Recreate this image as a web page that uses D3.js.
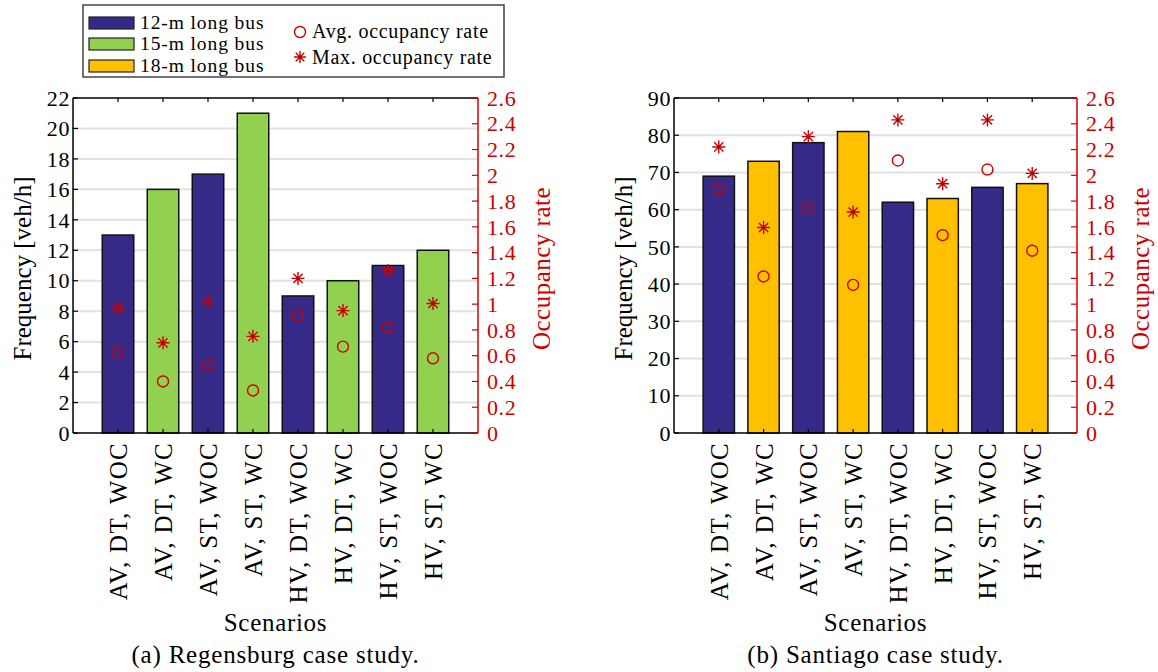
<!DOCTYPE html>
<html><head><meta charset="utf-8">
<script src="https://cdn.jsdelivr.net/npm/d3@7"></script>
<style>body{margin:0;background:#fff}svg{display:block}text{font-family:"Liberation Serif","Times New Roman",serif}</style>
</head><body>
<script>
// ---------- data ----------
const scenarios = ["AV, DT, WOC","AV, DT, WC","AV, ST, WOC","AV, ST, WC","HV, DT, WOC","HV, DT, WC","HV, ST, WOC","HV, ST, WC"];
const busTypes = ["12-m long bus","15-m long bus","18-m long bus"];
const busColors = ["#352a87","#92d050","#ffc000"];

const regFreq = [13,16,17,21,9,10,11,12];
const regBus = [0,1,0,1,0,1,0,1];
const regAvg = [0.63,0.40,0.52,0.33,0.91,0.67,0.815,0.58];
const regMax = [0.97,0.70,1.02,0.75,1.20,0.95,1.26,1.005];
const regFreqTicks = [0,2,4,6,8,10,12,14,16,18,20,22];

const sanFreq = [69,73,78,81,62,63,66,67];
const sanBus = [0,2,0,2,0,2,0,2];
const sanAvg = [1.89,1.215,1.745,1.15,2.115,1.535,2.045,1.415];
const sanMax = [2.22,1.595,2.30,1.715,2.43,1.935,2.43,2.015];
const sanFreqTicks = [0,10,20,30,40,50,60,70,80,90];

const occTicks = [0,0.2,0.4,0.6,0.8,1,1.2,1.4,1.6,1.8,2,2.2,2.4,2.6];
const captions = ["(a) Regensburg case study.","(b) Santiago case study."];

// ---------- drawing ----------
const W = 1158, H = 672, RED = "#cc0000";
const svg = d3.select("body").append("svg").attr("width", W).attr("height", H);

function asterisk(g, cx, cy, r){
  const a = r*0.7071;
  const p = `M${cx-r},${cy}L${cx+r},${cy}M${cx},${cy-r}L${cx},${cy+r}M${cx-a},${cy-a}L${cx+a},${cy+a}M${cx-a},${cy+a}L${cx+a},${cy-a}`;
  g.append("path").attr("d", p).attr("stroke", RED).attr("stroke-width", 1.4).attr("fill","none");
  g.append("circle").attr("cx",cx).attr("cy",cy).attr("r",1.6).attr("fill","#b00000");
}

function panel(p){
  const {x0,x1,y0,y1,freq,bus,avg,max,freqTicks,caption} = p;
  const g = svg.append("g");
  const x = d3.scaleLinear().domain([0, scenarios.length+1]).range([x0,x1]);
  const y = d3.scaleLinear().domain([0, freqTicks[freqTicks.length-1]]).range([y1,y0]);
  const y2 = d3.scaleLinear().domain([0, 2.6]).range([y1,y0]);
  const bw = x(0.7)-x(0);

  // grid
  g.append("g").selectAll("line").data(freqTicks.slice(1,-1)).join("line")
    .attr("x1",x0).attr("x2",x1).attr("y1",d=>y(d)).attr("y2",d=>y(d))
    .attr("stroke","#e2e2e2").attr("stroke-width",2);

  // bars
  g.append("g").selectAll("rect").data(freq).join("rect")
    .attr("x",(d,i)=>x(i+1)-bw/2).attr("width",bw)
    .attr("y",d=>y(d)).attr("height",d=>y(0)-y(d))
    .attr("fill",(d,i)=>busColors[bus[i]]).attr("stroke","#111").attr("stroke-width",1.5);

  // box lines
  g.append("line").attr("x1",x0).attr("x2",x1).attr("y1",y0).attr("y2",y0).attr("stroke","#000").attr("stroke-width",1.5);
  g.append("line").attr("x1",x0).attr("x2",x1).attr("y1",y1).attr("y2",y1).attr("stroke","#000").attr("stroke-width",1.5);
  g.append("line").attr("x1",x0).attr("x2",x0).attr("y1",y0).attr("y2",y1).attr("stroke","#000").attr("stroke-width",1.5);
  g.append("line").attr("x1",x1).attr("x2",x1).attr("y1",y0).attr("y2",y1).attr("stroke",RED).attr("stroke-width",1.5);

  // x ticks (top and bottom)
  scenarios.forEach((s,i)=>{
    g.append("line").attr("x1",x(i+1)).attr("x2",x(i+1)).attr("y1",y0).attr("y2",y0+4).attr("stroke","#000").attr("stroke-width",1.2);
    g.append("line").attr("x1",x(i+1)).attr("x2",x(i+1)).attr("y1",y1).attr("y2",y1-4).attr("stroke","#000").attr("stroke-width",1.2);
  });
  // x tick labels
  g.append("g").selectAll("text").data(scenarios).join("text")
    .attr("transform",(d,i)=>`translate(${x(i+1)+9},${y1+9}) rotate(-90)`)
    .attr("text-anchor","end").attr("font-size",25).attr("letter-spacing",1.3).attr("fill","#000").text(d=>d);

  // left y axis
  g.append("g").selectAll("line").data(freqTicks).join("line")
    .attr("x1",x0).attr("x2",x0+5).attr("y1",d=>y(d)).attr("y2",d=>y(d)).attr("stroke","#000").attr("stroke-width",1.2);
  g.append("g").selectAll("text").data(freqTicks).join("text")
    .attr("x",x0-3).attr("y",d=>y(d)).attr("dy","0.35em").attr("text-anchor","end")
    .attr("font-size",22).attr("letter-spacing",0.6).attr("fill","#000").text(d=>d);

  // right y axis
  g.append("g").selectAll("line").data(occTicks).join("line")
    .attr("x1",x1-6).attr("x2",x1).attr("y1",d=>y2(d)).attr("y2",d=>y2(d)).attr("stroke",RED).attr("stroke-width",1.2);
  g.append("g").selectAll("text").data(occTicks).join("text")
    .attr("x",x1+9).attr("y",d=>y2(d)).attr("dy","0.35em").attr("text-anchor","start")
    .attr("font-size",22).attr("letter-spacing",0.6).attr("fill",RED).text(d=>d);

  // markers
  g.append("g").selectAll("circle").data(avg).join("circle")
    .attr("cx",(d,i)=>x(i+1)).attr("cy",d=>y2(d)).attr("r",5.5)
    .attr("fill","none").attr("stroke",RED).attr("stroke-width",1.4);
  const mg = g.append("g");
  max.forEach((d,i)=>asterisk(mg, x(i+1), y2(d), 6.5));

  // titles
  const cx = (x0+x1)/2, cy = (y0+y1)/2 + 3;
  g.append("text").attr("transform",`translate(${x0-42},${cy}) rotate(-90)`).attr("text-anchor","middle")
    .attr("font-size",25).attr("fill","#000").text("Frequency [veh/h]");
  g.append("text").attr("transform",`translate(${x1+72},${cy}) rotate(-90)`).attr("text-anchor","middle")
    .attr("font-size",25).attr("letter-spacing",0.5).attr("fill",RED).text("Occupancy rate");
  g.append("text").attr("x",cx).attr("y",631).attr("text-anchor","middle").attr("font-size",25).attr("letter-spacing",0.7).text("Scenarios");
  g.append("text").attr("x",cx).attr("y",663).attr("text-anchor","middle").attr("font-size",25).attr("letter-spacing",0.8).text(caption);
}

panel({x0:73,x1:478,y0:98,y1:433,freq:regFreq,bus:regBus,avg:regAvg,max:regMax,freqTicks:regFreqTicks,caption:captions[0]});
panel({x0:674,x1:1077,y0:98,y1:433,freq:sanFreq,bus:sanBus,avg:sanAvg,max:sanMax,freqTicks:sanFreqTicks,caption:captions[1]});

// legend
const lg = svg.append("g");
lg.append("rect").attr("x",83).attr("y",5).attr("width",421).attr("height",72).attr("fill","#fff").attr("stroke","#444").attr("stroke-width",1.5);
const rowY = [23,44,66];
busTypes.forEach((t,i)=>{
  lg.append("rect").attr("x",89).attr("y",rowY[i]-6).attr("width",45).attr("height",12)
    .attr("fill",busColors[i]).attr("stroke","#222").attr("stroke-width",1.2);
  lg.append("text").attr("x",140).attr("y",rowY[i]+6).attr("font-size",19.5).attr("letter-spacing",0.9).text(t);
});
lg.append("circle").attr("cx",300).attr("cy",32).attr("r",5.5).attr("fill","none").attr("stroke",RED).attr("stroke-width",1.4);
lg.append("text").attr("x",312).attr("y",38).attr("font-size",20).attr("letter-spacing",0.7).text("Avg. occupancy rate");
asterisk(lg,300,57,6);
lg.append("text").attr("x",312).attr("y",64).attr("font-size",20).attr("letter-spacing",0.7).text("Max. occupancy rate");
</script>
</body></html>
